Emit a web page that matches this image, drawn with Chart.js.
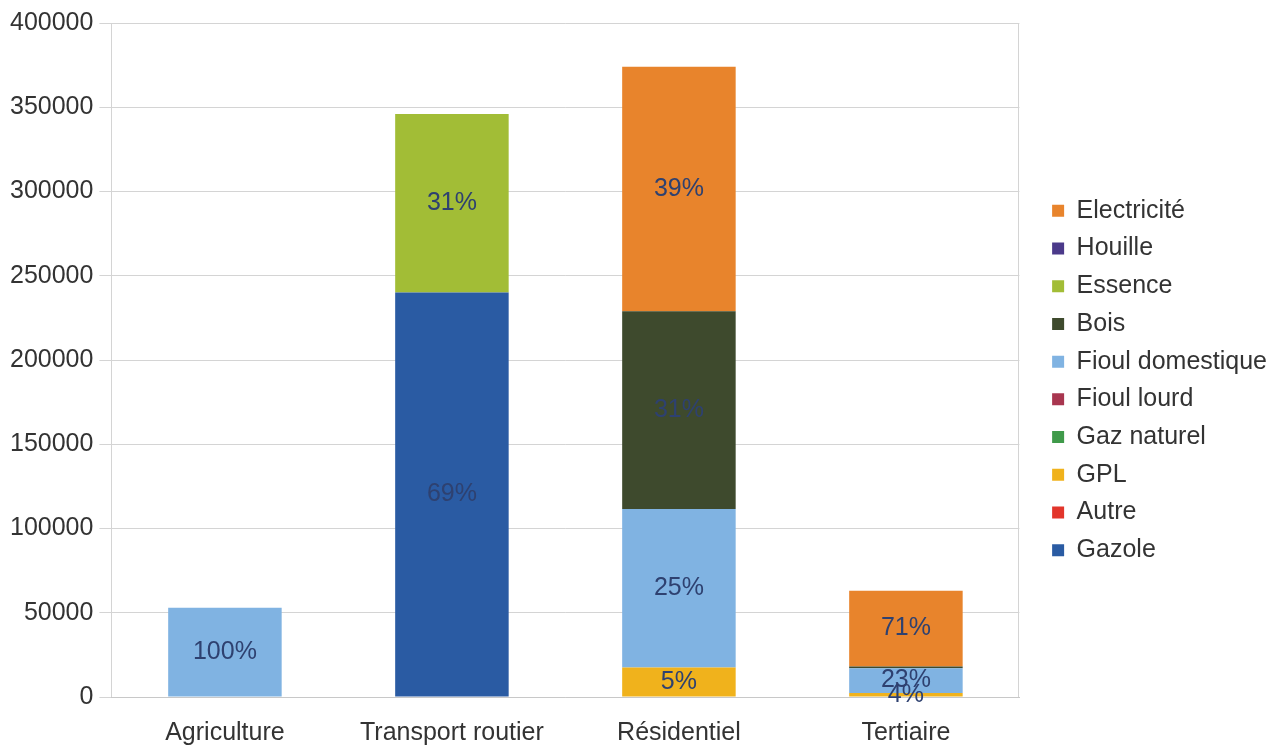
<!DOCTYPE html>
<html>
<head>
<meta charset="utf-8">
<script src="https://cdn.jsdelivr.net/npm/chart.js@4/dist/chart.umd.min.js"></script>
<style>
  html, body { margin: 0; padding: 0; background: #ffffff; }
  #wrap { width: 1286px; height: 746px; position: relative; }
</style>
</head>
<body>
<div id="wrap"><canvas id="c"></canvas></div>
<script>
// Consommation d'énergie par secteur et par source
const categories = ['Agriculture', 'Transport routier', 'Résidentiel', 'Tertiaire'];

const gazole          = [0, 240000, 0, 0];
const autre           = [0, 0, 0, 0];
const gpl             = [0, 0, 17500, 2400];
const gazNaturel      = [0, 0, 0, 0];
const fioulLourd      = [0, 0, 0, 0];
const fioulDomestique = [53000, 0, 94000, 14700];
const bois            = [0, 0, 117500, 1000];
const essence         = [0, 106000, 0, 0];
const houille         = [0, 0, 0, 0];
const electricite     = [0, 0, 145000, 45000];

const yTicks = [0, 50000, 100000, 150000, 200000, 250000, 300000, 350000, 400000];

const FONT = "'Liberation Sans', Arial, sans-serif";
const TEXT = '#333333';
const LABEL = '#2e4170';

// stacking order, bottom to top
const series = [
  { label: 'Gazole',           data: gazole,          color: '#2a5ba3' },
  { label: 'Autre',            data: autre,           color: '#e2352b' },
  { label: 'GPL',              data: gpl,             color: '#f0b21c' },
  { label: 'Gaz naturel',      data: gazNaturel,      color: '#3f9a4a' },
  { label: 'Fioul lourd',      data: fioulLourd,      color: '#a8364f' },
  { label: 'Fioul domestique', data: fioulDomestique, color: '#80b3e2' },
  { label: 'Bois',             data: bois,            color: '#3e4a2d' },
  { label: 'Essence',          data: essence,         color: '#a2bd36' },
  { label: 'Houille',          data: houille,         color: '#4b3a8a' },
  { label: 'Electricité',      data: electricite,     color: '#e8842c' }
];

const totals = categories.map((_, i) => series.reduce((s, d) => s + d.data[i], 0));

// share of each segment written in the middle of its bar piece
const segmentLabels = {
  id: 'segmentLabels',
  afterDatasetsDraw(chart) {
    const ctx = chart.ctx;
    ctx.save();
    ctx.font = '25px ' + FONT;
    ctx.fillStyle = LABEL;
    ctx.textAlign = 'center';
    ctx.textBaseline = 'middle';
    chart.data.datasets.forEach((ds, di) => {
      const meta = chart.getDatasetMeta(di);
      meta.data.forEach((el, i) => {
        const v = ds.data[i];
        if (!v) return;
        const share = v / totals[i] * 100;
        if (share < 2) return;
        const { x, y, base } = el.getProps(['x', 'y', 'base'], true);
        ctx.fillText(Math.round(share) + '%', x, (y + base) / 2);
      });
    });
    ctx.restore();
  }
};

// light frame round the plot area
const plotFrame = {
  id: 'plotFrame',
  beforeDatasetsDraw(chart) {
    const a = chart.chartArea;
    const ctx = chart.ctx;
    ctx.save();
    ctx.strokeStyle = '#d4d4d4';
    ctx.lineWidth = 1;
    ctx.beginPath();
    ctx.moveTo(Math.round(a.left) + 0.5, a.bottom);
    ctx.lineTo(Math.round(a.left) + 0.5, a.top);
    ctx.moveTo(Math.round(a.right) - 0.5, a.top);
    ctx.lineTo(Math.round(a.right) - 0.5, a.bottom);
    ctx.stroke();
    ctx.restore();
  }
};

// leave a gap between the plot and the legend column, and lift the column a little
const LEGEND_GAP = 20;
const LEGEND_LIFT = 4;
const legendGap = {
  id: 'legendGap',
  beforeInit(chart) {
    const legend = chart.legend;
    const fit = legend.fit;
    legend.fit = function () {
      fit.call(this);
      this.width += LEGEND_GAP;
    };
  },
  afterLayout(chart) {
    const legend = chart.legend;
    legend.left += LEGEND_GAP;
    legend.right += LEGEND_GAP;
    legend.top -= LEGEND_LIFT;
    legend.bottom -= LEGEND_LIFT;
  }
};

new Chart(document.getElementById('c'), {
  type: 'bar',
  data: {
    labels: categories,
    datasets: series.map(s => ({
      label: s.label,
      data: s.data,
      backgroundColor: s.color,
      borderWidth: 0,
      categoryPercentage: 1,
      barPercentage: 0.5
    }))
  },
  options: {
    responsive: true,
    maintainAspectRatio: false,
    animation: false,
    layout: { padding: { top: 23, left: 4, right: 9, bottom: 0 } },
    plugins: {
      legend: {
        position: 'right',
        reverse: true,
        align: 'center',
        labels: {
          boxWidth: 12,
          boxHeight: 12,
          padding: 12.7,
          color: TEXT,
          font: { family: FONT, size: 25 }
        }
      },
      tooltip: { enabled: false }
    },
    scales: {
      x: {
        stacked: true,
        grid: { display: false, drawTicks: false },
        border: { display: true, color: '#c8c8c8' },
        ticks: { color: TEXT, font: { family: FONT, size: 25, lineHeight: 1 }, padding: 24 },
        afterFit(scale) { scale.height = 49; }
      },
      y: {
        stacked: true,
        min: 0,
        max: 400000,
        afterBuildTicks(axis) { axis.ticks = yTicks.map(v => ({ value: v })); },
        grid: { color: '#d4d4d4', tickLength: 12, tickColor: '#d4d4d4' },
        border: { display: false },
        ticks: {
          color: TEXT,
          font: { family: FONT, size: 25 },
          padding: 6,
          callback: v => String(v)
        }
      }
    }
  },
  plugins: [segmentLabels, plotFrame, legendGap]
});
</script>
</body>
</html>
